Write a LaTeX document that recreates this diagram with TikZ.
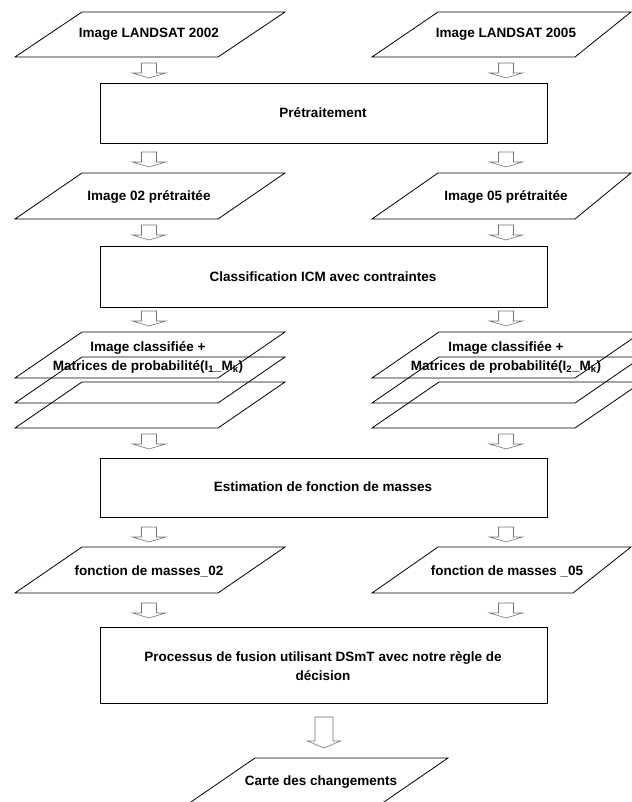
\documentclass[tikz,border=0pt]{standalone}
\usepackage{fontspec}
\setmainfont{Liberation Sans}

\tikzset{
  lbl/.style={font=\fontsize{13.5}{19}\selectfont\bfseries, align=center, inner sep=0pt},
  box/.style={draw=black, line width=0.8pt},
  plane/.style={draw=black, line width=0.8pt, line join=miter},
  arrowline/.style={draw=black!55, line width=0.6pt, line join=miter},
  smallarrow/.pic={
    \draw[arrowline] (-7.5,0) -- (7.5,0) -- (7.5,10) -- (16.5,10) -- (0,15)
      -- (-16.5,10) -- (-7.5,10) -- cycle;
  },
  bigarrow/.pic={
    \draw[arrowline] (-9,0) -- (9,0) -- (9,24) -- (16.5,24) -- (0,31)
      -- (-16.5,24) -- (-9,24) -- cycle;
  },
}

\begin{document}
\begin{tikzpicture}[x=1pt,y=-1pt]
    \useasboundingbox (0,0) rectangle (631,802);

    % Input images
    \draw[plane] (15,57) -- (82,12) -- (285,12) -- (218,57) -- cycle;
    \draw[plane] (372,57) -- (438,12) -- (631,12) -- (575,57) -- cycle;
    \node[lbl] (lsatA) at (149,34) {Image LANDSAT 2002};
    \node[lbl] (lsatB) at (506,34) {Image LANDSAT 2005};

    \pic at (149,63) {smallarrow};
    \pic at (506,63) {smallarrow};

    % Preprocessing
    \draw[box] (100,83) rectangle (547,143);
    \node[lbl] (pretr) at (323,113) {Prétraitement};

    \pic at (149,152) {smallarrow};
    \pic at (506,152) {smallarrow};

    \draw[plane] (15,219) -- (82,173) -- (285,173) -- (218,219) -- cycle;
    \draw[plane] (372,219) -- (438,173) -- (631,173) -- (575,219) -- cycle;
    \node[lbl] (imgA) at (149,197) {Image 02 prétraitée};
    \node[lbl] (imgB) at (506,197) {Image 05 prétraitée};

    \pic at (149,225) {smallarrow};
    \pic at (506,225) {smallarrow};

    % Classification
    \draw[box] (100,246) rectangle (547,307);
    \node[lbl] (classif) at (323,277) {Classification ICM avec contraintes};

    \pic at (149,311) {smallarrow};
    \pic at (506,311) {smallarrow};

    % Stacks of classified images
    \foreach \dy in {0,25,50} {
        \draw[plane] (15,378+\dy) -- (82,332+\dy) -- (285,332+\dy) -- (218,378+\dy) -- cycle;
        \draw[plane] (372,378+\dy) -- (439,332+\dy) -- (642,332+\dy) -- (575,378+\dy) -- cycle;
    }
    \node[lbl] (stackA) at (148,357) {Image classifiée +\\Matrices de probabilité(I\textsubscript{1}\_M\textsubscript{k})};
    \node[lbl] (stackB) at (506,357) {Image classifiée +\\Matrices de probabilité(I\textsubscript{2}\_M\textsubscript{k})};

    \pic at (149,434) {smallarrow};
    \pic at (506,434) {smallarrow};

    % Mass functions
    \draw[box] (100,458) rectangle (547,517);
    \node[lbl] (estim) at (323,487) {Estimation de fonction de masses};

    \pic at (149,527) {smallarrow};
    \pic at (506,527) {smallarrow};

    \draw[plane] (15,593) -- (82,547) -- (285,547) -- (218,593) -- cycle;
    \draw[plane] (372,593) -- (438,547) -- (631,547) -- (573,593) -- cycle;
    \node[lbl] (massA) at (149,571) {fonction de masses\_02};
    \node[lbl] (massB) at (507,571) {fonction de masses \_05};

    \pic at (149,603) {smallarrow};
    \pic at (506,603) {smallarrow};

    % Fusion
    \draw[box] (100,627) rectangle (547,703);
    \node[lbl] (fusion) at (323,666) {Processus de fusion utilisant DSmT avec notre règle de\\décision};

    \pic at (324,717) {bigarrow};

    \draw[plane] (188,804) -- (255,758) -- (448,758) -- (381,804) -- cycle;
    \node[lbl] (carte) at (321,782) {Carte des changements};
\end{tikzpicture}
\end{document}
